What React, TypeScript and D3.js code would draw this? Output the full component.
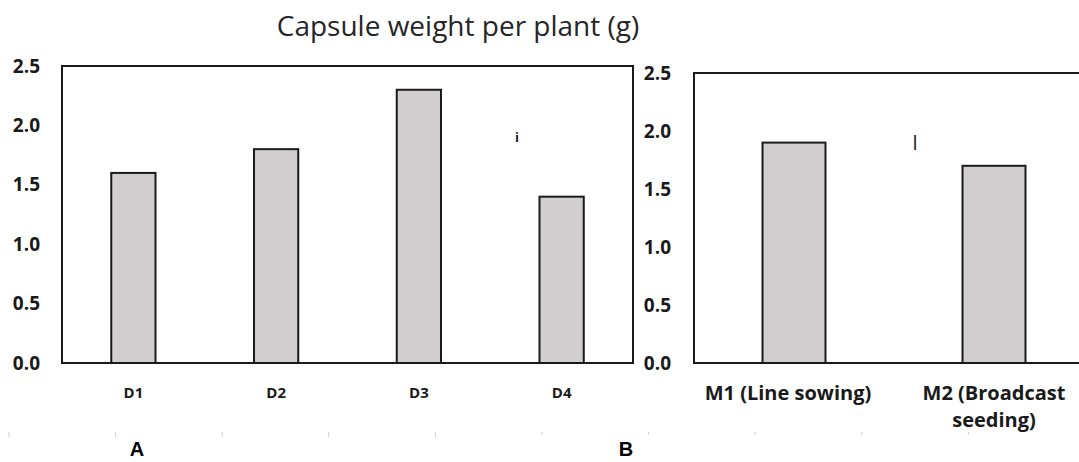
import React, { useEffect, useRef } from 'react';
import * as d3 from 'd3';

// panel A: sowing dates
const datesCats = ['D1', 'D2', 'D3', 'D4'];
const datesValues = [1.6, 1.8, 2.3, 1.4];
// panel B: sowing methods
const methodCats = ['M1 (Line sowing)', 'M2 (Broadcast seeding)'];
const methodLabelLines = [['M1 (Line sowing)'], ['M2 (Broadcast', 'seeding)']];
const methodValues = [1.9, 1.7];
const yTicks = [0, 0.5, 1.0, 1.5, 2.0, 2.5];

const FONT = "'Open Sans', 'Noto Sans', 'DejaVu Sans', sans-serif";
const BAR_FILL = '#d0cece';
const INK = '#1a1a1a';

const App = () => {
    const svgRef = useRef<SVGSVGElement>(null);

    useEffect(() => {
        const svg = d3.select(svgRef.current);
        svg.selectAll('*').remove();

        svg.append('rect').attr('width', 1079).attr('height', 462).attr('fill', '#fff');

        //title
        svg.append('text')
            .attr('x', 458)
            .attr('y', 36)
            .attr('text-anchor', 'middle')
            .attr('font-family', FONT)
            .attr('font-size', '28px')
            .attr('fill', '#262626')
            .text('Capsule weight per plant (g)');

        // ---------- panel A ----------
        const a = { left: 62, right: 633, top: 66, bottom: 363 };
        const xA = d3.scaleBand().domain(datesCats).range([a.left, a.right]).paddingInner(0.69).paddingOuter(0.345);
        const yA = d3.scaleLinear().domain([0, 2.5]).range([a.bottom, a.top]);

        svg.append('g')
            .selectAll('rect')
            .data(datesValues)
            .enter().append('rect')
            .attr('x', (d, i) => xA(datesCats[i])!)
            .attr('y', d => yA(d))
            .attr('width', xA.bandwidth())
            .attr('height', d => yA(0) - yA(d))
            .attr('fill', BAR_FILL)
            .attr('stroke', INK)
            .attr('stroke-width', 2);

        svg.append('rect')
            .attr('x', a.left).attr('y', a.top)
            .attr('width', a.right - a.left).attr('height', a.bottom - a.top)
            .attr('fill', 'none').attr('stroke', INK).attr('stroke-width', 2);

        const axA = svg.append('g')
            .attr('transform', `translate(${a.left},0)`)
            .call(d3.axisLeft(yA).tickValues(yTicks).tickSize(0).tickPadding(22).tickFormat(d3.format('.1f')));
        axA.select('.domain').remove();
        axA.selectAll('text')
            .attr('font-family', FONT).attr('font-size', '19px').attr('font-weight', 'bold').attr('fill', INK);

        svg.append('g')
            .selectAll('text')
            .data(datesCats)
            .enter().append('text')
            .attr('x', d => xA(d)! + xA.bandwidth() / 2)
            .attr('y', 398)
            .attr('text-anchor', 'middle')
            .attr('font-family', FONT).attr('font-size', '15px').attr('font-weight', 'bold').attr('fill', INK)
            .text(d => d);

        svg.append('text')
            .attr('x', 517).attr('y', 142)
            .attr('text-anchor', 'middle')
            .attr('font-family', FONT).attr('font-size', '13px').attr('font-weight', 'bold').attr('fill', INK)
            .text('i');

        // ---------- panel B ----------
        const b = { left: 694, right: 1094, top: 73, bottom: 363 };
        const xB = d3.scaleBand().domain(methodCats).range([b.left, b.right]).paddingInner(0.685).paddingOuter(0.3425);
        const yB = d3.scaleLinear().domain([0, 2.5]).range([b.bottom, b.top]);

        svg.append('g')
            .selectAll('rect')
            .data(methodValues)
            .enter().append('rect')
            .attr('x', (d, i) => xB(methodCats[i])!)
            .attr('y', d => yB(d))
            .attr('width', xB.bandwidth())
            .attr('height', d => yB(0) - yB(d))
            .attr('fill', BAR_FILL)
            .attr('stroke', INK)
            .attr('stroke-width', 2);

        svg.append('rect')
            .attr('x', b.left).attr('y', b.top)
            .attr('width', b.right - b.left).attr('height', b.bottom - b.top)
            .attr('fill', 'none').attr('stroke', INK).attr('stroke-width', 2);

        const axB = svg.append('g')
            .attr('transform', `translate(${b.left},0)`)
            .call(d3.axisLeft(yB).tickValues(yTicks).tickSize(0).tickPadding(23).tickFormat(d3.format('.1f')));
        axB.select('.domain').remove();
        axB.selectAll('text')
            .attr('font-family', FONT).attr('font-size', '19px').attr('font-weight', 'bold').attr('fill', INK);

        const mLabels = svg.append('g')
            .selectAll('text')
            .data(methodCats)
            .enter().append('text')
            .attr('y', 400)
            .attr('text-anchor', 'middle')
            .attr('font-family', FONT).attr('font-size', '20px').attr('font-weight', 'bold').attr('fill', INK);
        mLabels.each(function (d, i) {
            const t = d3.select(this);
            methodLabelLines[i].forEach((line, j) => {
                t.append('tspan')
                    .attr('x', xB(d)! + xB.bandwidth() / 2 - (i === 0 ? 6 : 0))
                    .attr('dy', j === 0 ? 0 : 27)
                    .text(line);
            });
        });

        svg.append('text')
            .attr('x', 915).attr('y', 150)
            .attr('text-anchor', 'middle')
            .attr('font-family', FONT).attr('font-size', '20px').attr('fill', INK)
            .text('l');

        // faint page ticks along the bottom
        svg.append('g')
            .selectAll('line')
            .data(d3.range(10))
            .enter().append('line')
            .attr('x1', d => 9 + d * 106.6).attr('x2', d => 9 + d * 106.6)
            .attr('y1', 432).attr('y2', d => (d < 5 ? 437 : 435))
            .attr('stroke', '#cfcfcf').attr('stroke-width', 1);

        // panel letters
        svg.append('g')
            .selectAll('text')
            .data([{ t: 'A', x: 137 }, { t: 'B', x: 626 }])
            .enter().append('text')
            .attr('x', d => d.x).attr('y', 456)
            .attr('text-anchor', 'middle')
            .attr('font-family', "'Liberation Sans', Arial, sans-serif")
            .attr('font-size', '20px').attr('font-weight', 'bold').attr('fill', '#000')
            .text(d => d.t);
    }, []);

    return (
        <div style={{ position: 'fixed', left: 0, top: 0, width: 1079, height: 462, background: '#fff' }}>
            <svg ref={svgRef} width={1079} height={462} style={{ display: 'block' }}></svg>
        </div>
    );
};

export default App;
